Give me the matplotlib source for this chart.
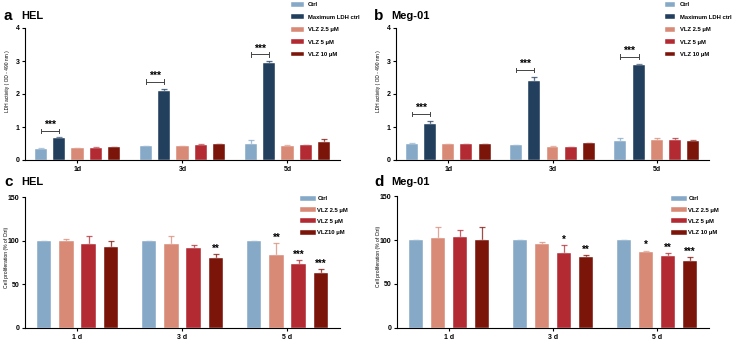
import matplotlib
matplotlib.use("Agg")
import matplotlib.pyplot as plt
import numpy as np

plt.rcParams['font.family'] = ['Liberation Sans', 'DejaVu Sans']
plt.rcParams['font.weight'] = 'bold'

# --- data ---
days_ldh = ['1d', '3d', '5d']
days_prolif = ['1 d', '3 d', '5 d']

ldh_labels = ['Ctrl', 'Maximum LDH ctrl', 'VLZ 2.5 \u03bcM', 'VLZ 5 \u03bcM', 'VLZ 10 \u03bcM']

# HEL LDH (rows: series, cols: 1d, 3d, 5d)
hel_ldh = [[0.33, 0.42, 0.48],
           [0.66, 2.08, 2.93],
           [0.35, 0.42, 0.43],
           [0.37, 0.45, 0.45],
           [0.39, 0.47, 0.56]]
hel_ldh_err = [[0.02, 0.01, 0.14],
                [0.03, 0.08, 0.06],
                [0.01, 0.01, 0.02],
                [0.01, 0.02, 0.01],
                [0.01, 0.01, 0.08]]
hel_ldh_brk = [0.88, 2.37, 3.20]

# Meg-01 LDH
meg_ldh = [[0.50, 0.45, 0.58],
           [1.08, 2.39, 2.89],
           [0.48, 0.40, 0.60],
           [0.48, 0.39, 0.60],
           [0.47, 0.51, 0.57]]
meg_ldh_err = [[0.01, 0.01, 0.09],
                [0.10, 0.13, 0.03],
                [0.01, 0.01, 0.08],
                [0.01, 0.01, 0.06],
                [0.03, 0.01, 0.05]]
meg_ldh_brk = [1.39, 2.73, 3.13]

# Cell proliferation (% of Ctrl)
hel_prolif_labels = ['Ctrl', 'VLZ 2.5 \u03bcM', 'VLZ 5 \u03bcM', 'VLZ10 \u03bcM']
hel_prolif = [[100, 100, 100],
              [99.1, 96.5, 83.5],
              [96.0, 91.5, 72.9],
              [92.3, 80.5, 63.4]]
hel_prolif_err = [[0, 0, 0],
                  [2.3, 9.0, 13.3],
                  [8.8, 3.1, 4.6],
                  [7.6, 3.8, 3.8]]
hel_prolif_sig = [['', '', ''],
                  ['', '', '**'],
                  ['', '', '***'],
                  ['', '**', '***']]

meg_prolif_labels = ['Ctrl', 'VLZ 2.5 \u03bcM', 'VLZ 5 \u03bcM', 'VLZ 10 \u03bcM']
meg_prolif = [[100, 100, 100],
              [102.5, 95.0, 85.8],
              [103.0, 85.4, 81.3],
              [100.5, 80.5, 75.6]]
meg_prolif_err = [[0, 0, 0],
                  [12.2, 3.0, 2.2],
                  [8.6, 8.8, 4.1],
                  [13.8, 2.7, 5.3]]
meg_prolif_sig = [['', '', ''],
                  ['', '', '*'],
                  ['', '*', '**'],
                  ['', '**', '***']]

ldh_colors = ['#87a9c8', '#223f5e', '#d88a76', '#b32a33', '#7b1409']
prolif_colors = ['#87a9c8', '#d88a76', '#b32a33', '#7b1409']

W, H = 732, 341
fig = plt.figure(figsize=(W / 100, H / 100), dpi=100)


def px_axes(x0, y_top, x1, y_bot):
    return fig.add_axes([x0 / W, 1 - y_bot / H, (x1 - x0) / W, (y_bot - y_top) / H])


def style_axes(ax):
    for s in ['top', 'right']:
        ax.spines[s].set_visible(False)
    for s in ['left', 'bottom']:
        ax.spines[s].set_linewidth(0.8)
    ax.tick_params(axis='both', labelsize=5, length=2.5, width=0.8, pad=1.5)


def bar_panel(ax, vals, errs, labels, colors, step, width):
    x = np.arange(3)
    n = len(vals)
    offs = (np.arange(n) - (n - 1) / 2) * step
    for i in range(n):
        e = np.array(errs[i])
        ax.bar(x + offs[i], vals[i], width, color=colors[i], label=labels[i],
               edgecolor='white', linewidth=0.3, zorder=2)
        ax.errorbar(x + offs[i], vals[i], yerr=[np.zeros(3), e], fmt='none',
                    ecolor=colors[i], elinewidth=0.9, capsize=2.5, capthick=0.9,
                    alpha=0.75, zorder=1)
    ax.set_xlim(-0.5, 2.5)
    return x, offs


def legend(ax, loc_px, spacing, hlen, pad):
    lg = ax.legend(loc='upper left', bbox_to_anchor=(loc_px[0] / W, 1 - loc_px[1] / H),
                   bbox_transform=fig.transFigure, frameon=False, fontsize=4.2,
                   handlelength=hlen, handleheight=0.9, labelspacing=spacing,
                   borderpad=0, handletextpad=pad)
    return lg


# --- LDH panels ---
ldh_sets = [(hel_ldh, hel_ldh_err, hel_ldh_brk, (25, 28, 340, 160), (288, -1), 2.2, 0.7),
            (meg_ldh, meg_ldh_err, meg_ldh_brk, (396, 28, 709, 160), (662, -1), 1.7, 0.9)]
for vals, errs, brk, box, lgpos, hlen, hpad in ldh_sets:
    ax = px_axes(*box)
    style_axes(ax)
    x, offs = bar_panel(ax, vals, errs, ldh_labels, ldh_colors, 0.175, 0.115)
    ax.set_ylim(0, 4)
    ax.set_yticks([0, 1, 2, 3, 4])
    ax.set_xticks(x)
    ax.set_xticklabels(days_ldh)
    ax.set_ylabel('LDH activity ( OD - 490 nm )', fontsize=3.5)
    ax.yaxis.set_label_coords(-15.5 / (box[2] - box[0]), 0.6)
    for j in range(3):
        x1, x2 = x[j] + offs[0], x[j] + offs[1]
        ax.plot([x1, x2], [brk[j], brk[j]], color='#444444', lw=0.7)
        ax.plot([x1, x1], [brk[j] - 0.07, brk[j] + 0.07], color='#444444', lw=0.7)
        ax.plot([x2, x2], [brk[j] - 0.07, brk[j] + 0.07], color='#444444', lw=0.7)
        ax.text((x1 + x2) / 2, brk[j] + 0.03, '***', ha='center', va='bottom', fontsize=7.5)
    legend(ax, lgpos, 1.2, hlen, hpad)

# --- proliferation panels ---
prolif_sets = [(hel_prolif, hel_prolif_err, hel_prolif_sig, hel_prolif_labels, (25, 197, 340, 328), (297, 193)),
               (meg_prolif, meg_prolif_err, meg_prolif_sig, meg_prolif_labels, (397, 196, 709, 328), (668, 193))]
for vals, errs, sig, labels, box, lgpos in prolif_sets:
    ax = px_axes(*box)
    style_axes(ax)
    x, offs = bar_panel(ax, vals, errs, labels, prolif_colors, 0.212, 0.14)
    ax.set_ylim(0, 150)
    ax.set_yticks([0, 50, 100, 150])
    ax.set_xticks(x)
    ax.set_xticklabels(days_prolif)
    ax.set_ylabel('Cell proliferation (% of Ctrl)', fontsize=3.6)
    ax.yaxis.set_label_coords(-16.0 / (box[2] - box[0]), 0.54)
    for i in range(len(vals)):
        for j in range(3):
            if sig[i][j]:
                ax.text(x[j] + offs[i], vals[i][j] + errs[i][j] + 0.5, sig[i][j],
                        ha='center', va='bottom', fontsize=7)
    legend(ax, lgpos, 1.0, 2.7, 0.3)

# --- panel letters and titles ---
for letter, title, lx, ly in [('a', 'HEL', 4, 16), ('b', 'Meg-01', 374, 16),
                              ('c', 'HEL', 4, 182), ('d', 'Meg-01', 374, 182)]:
    fig.text(lx / W, 1 - ly / H, letter, fontsize=11, fontweight='bold', va='center')
    fig.text((lx + 17) / W, 1 - ly / H, title, fontsize=8, fontweight='bold', va='center')

plt.savefig('out.png', dpi=100)
